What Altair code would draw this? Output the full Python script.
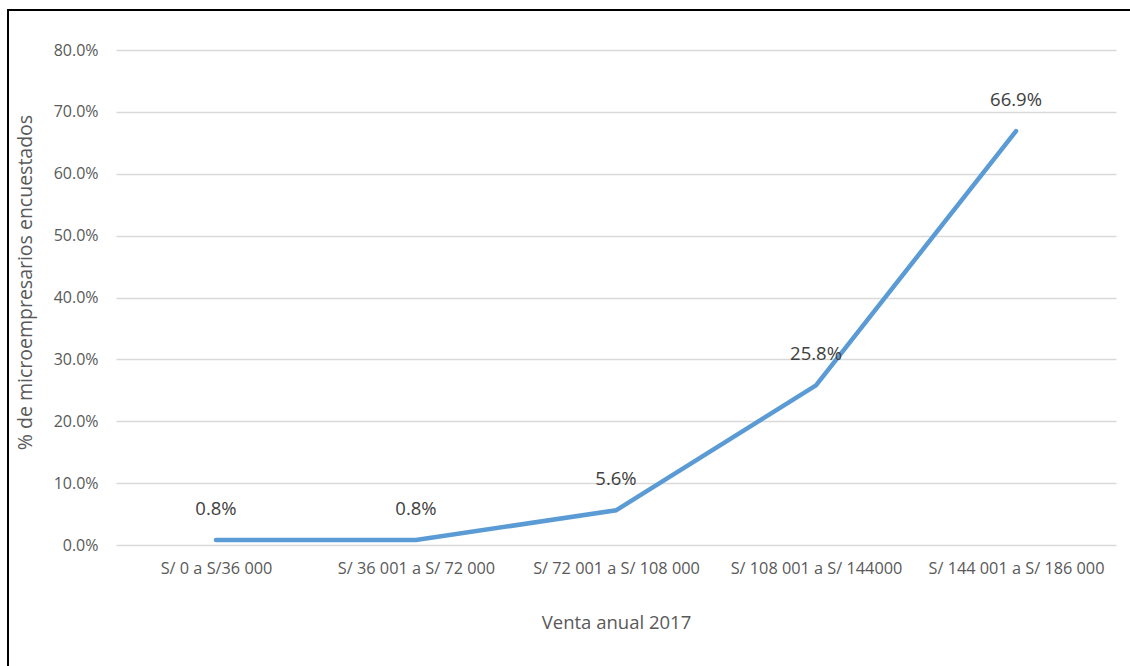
import altair as alt
import pandas as pd

categories = ["S/ 0 a S/36 000", "S/ 36 001 a S/ 72 000", "S/ 72 001 a S/ 108 000",
              "S/ 108 001 a S/ 144000", "S/ 144 001 a S/ 186 000"]
values = [0.008, 0.008, 0.056, 0.258, 0.669]
labels = ["0.8%", "0.8%", "5.6%", "25.8%", "66.9%"]
y_ticks = [0.0, 0.1, 0.2, 0.3, 0.4, 0.5, 0.6, 0.7, 0.8]

df = pd.DataFrame({"cat": categories, "val": values, "lab": labels})

FONT = "Open Sans"
x = alt.X("cat:N", sort=categories, title="Venta anual 2017",
          scale=alt.Scale(paddingInner=0, paddingOuter=0.5),
          axis=alt.Axis(labelAngle=0, domain=False, ticks=False, labelPadding=15,
                        labelFontSize=16.3, labelColor="#595959", labelFont=FONT,
                        labelOverlap=False,
                        titleFont=FONT, titleFontSize=18.5, titleColor="#595959",
                        titleFontWeight="normal", titleY=77, titleBaseline="middle",
                        grid=False))
y = alt.Y("val:Q", title="% de microempresarios  encuestados",
          scale=alt.Scale(domain=[0, 0.8], nice=False),
          axis=alt.Axis(format=".1%", values=y_ticks, labelOverlap=False,
                        domain=False, ticks=False, labelPadding=18,
                        labelFontSize=16, labelColor="#595959", labelFont=FONT,
                        gridColor="#d9d9d9", gridWidth=1.3,
                        titleFont=FONT, titleFontSize=19.5, titleColor="#595959",
                        titleFontWeight="normal", titleX=-91, titleY=232,
                        titleAngle=-90, titleAlign="center", titleBaseline="middle"))

base = alt.Chart(df)
line = base.mark_line(color="#5B9BD5", strokeWidth=4.5, strokeCap="round",
                      strokeJoin="miter").encode(x=x, y=y)
txt = base.mark_text(dy=-31, fontSize=18.5, color="#404040", font=FONT).encode(
    x=x, y=y, text="lab:N")

top_rule = alt.Chart(pd.DataFrame({"a": [0]})).mark_rule(
    color="black", strokeWidth=2, clip=False).encode(
    x=alt.value(-108), x2=alt.value(1020), y=alt.value(-40))
left_rule = alt.Chart(pd.DataFrame({"a": [0]})).mark_rule(
    color="black", strokeWidth=2, clip=False).encode(
    x=alt.value(-108), y=alt.value(-41), y2=alt.value(130 + 495))

chart = alt.layer(line, txt, top_rule, left_rule).properties(
    width=1000, height=495,
    autosize=alt.AutoSizeParams(type="none"),
    padding={"left": 116, "top": 50, "right": 14, "bottom": 121},
    background="white",
).configure_view(stroke=None)

chart.save("out.html", embed_options={"renderer": "svg", "actions": False})
